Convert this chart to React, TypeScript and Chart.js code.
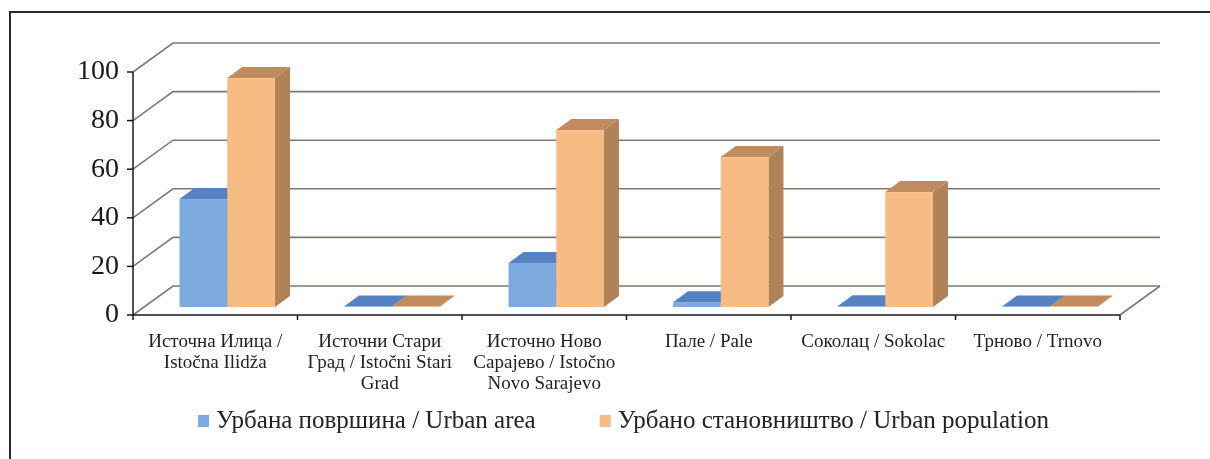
import React, { useEffect, useRef } from "react";
import { Chart, registerables } from "chart.js";

Chart.register(...registerables);

const categories: (string | string[])[] = [
  ["Источна Илица /", "Istočna Ilidža"],
  ["Источни Стари", "Град / Istočni Stari", "Grad"],
  ["Источно Ново", "Сарајево / Istočno", "Novo Sarajevo"],
  "Пале / Pale",
  "Соколац / Sokolac",
  "Трново / Trnovo",
];
const urbanArea = [44.4, 0.2, 18.1, 2, 0.3, 0.2];
const urbanPopulation = [94.2, 0.2, 72.8, 61.7, 47.3, 0.2];
const seriesNames = [
  "Урбана површина / Urban area",
  "Урбано становништво / Urban population",
];
const yTicks = [0, 20, 40, 60, 80, 100];

const WALL = { dx: 40, dy: -29 };
const FRONT = { dx: 12, dy: -8 };
const DEPTH = { dx: 15, dy: -11 };
const faceColors = [
  { front: "#7ca9de", top: "#5482c2", side: "#3f6aa8" },
  { front: "#f7bb84", top: "#c08b5d", side: "#b08257" },
];

const threeD = {
  id: "threeD",
  beforeDraw(chart: any) {
    const { ctx, width, height } = chart;
    ctx.save();
    ctx.fillStyle = "#ffffff";
    ctx.fillRect(0, 0, width, height);
    ctx.strokeStyle = "#2a2a2a";
    ctx.lineWidth = 2;
    ctx.beginPath();
    ctx.moveTo(10, height);
    ctx.lineTo(10, 12);
    ctx.lineTo(width, 12);
    ctx.stroke();
    ctx.restore();
  },
  beforeDatasetsDraw(chart: any) {
    const { ctx, chartArea: a, scales } = chart;
    const y = scales.y;
    ctx.save();
    ctx.strokeStyle = "#84776f";
    ctx.lineWidth = 1.6;
    yTicks.forEach((v) => {
      const py = y.getPixelForValue(v);
      ctx.beginPath();
      ctx.moveTo(a.left, py);
      ctx.lineTo(a.left + WALL.dx, py + WALL.dy);
      ctx.lineTo(a.right + WALL.dx, py + WALL.dy);
      ctx.stroke();
    });
    const y0 = y.getPixelForValue(0);
    ctx.beginPath();
    ctx.moveTo(a.right, y0);
    ctx.lineTo(a.right + WALL.dx, y0 + WALL.dy);
    ctx.stroke();
    ctx.restore();
  },
  beforeDatasetDraw() {
    return false;
  },
  afterDatasetsDraw(chart: any) {
    const { ctx, chartArea: a, scales } = chart;
    const metas = chart.getSortedVisibleDatasetMetas();
    const n = chart.data.labels.length;
    ctx.save();
    for (let i = 0; i < n; i++) {
      metas.forEach((meta: any, k: number) => {
        const el = meta.data[i];
        const { x, y, base, width } = el.getProps(["x", "y", "base", "width"], true);
        const c = faceColors[k];
        const l = x - width / 2 + FRONT.dx;
        const r = x + width / 2 + FRONT.dx;
        const t = y + FRONT.dy;
        const b = base + FRONT.dy;
        ctx.fillStyle = c.side;
        ctx.beginPath();
        ctx.moveTo(r, t);
        ctx.lineTo(r + DEPTH.dx, t + DEPTH.dy);
        ctx.lineTo(r + DEPTH.dx, b + DEPTH.dy);
        ctx.lineTo(r, b);
        ctx.closePath();
        ctx.fill();
        ctx.fillStyle = c.top;
        ctx.beginPath();
        ctx.moveTo(l, t);
        ctx.lineTo(r, t);
        ctx.lineTo(r + DEPTH.dx, t + DEPTH.dy);
        ctx.lineTo(l + DEPTH.dx, t + DEPTH.dy);
        ctx.closePath();
        ctx.fill();
        ctx.fillStyle = c.front;
        ctx.fillRect(l, t, r - l, b - t);
      });
    }
    const ys = scales.y;
    const y0 = ys.getPixelForValue(0);
    const yTop = ys.getPixelForValue(100);
    ctx.strokeStyle = "#1a1a1a";
    ctx.lineWidth = 1.5;
    ctx.beginPath();
    ctx.moveTo(a.left, yTop);
    ctx.lineTo(a.left, y0);
    ctx.lineTo(a.right, y0);
    ctx.stroke();
    yTicks.forEach((v) => {
      const py = ys.getPixelForValue(v);
      ctx.beginPath();
      ctx.moveTo(a.left - 6, py);
      ctx.lineTo(a.left, py);
      ctx.stroke();
    });
    const w = (a.right - a.left) / n;
    for (let i = 0; i <= n; i++) {
      const px = a.left + i * w;
      ctx.beginPath();
      ctx.moveTo(px, y0);
      ctx.lineTo(px, y0 + 5);
      ctx.stroke();
    }
    ctx.restore();
  },
  afterDraw(chart: any) {
    const { ctx, chartArea: a } = chart;
    ctx.save();
    ctx.font = "25px 'Liberation Serif'";
    ctx.textBaseline = "middle";
    ctx.textAlign = "left";
    const box = 11;
    const boxH = 12;
    const gapText = 7;
    const gapItem = 64;
    const items = chart.data.datasets.map((ds: any) => ({
      text: ds.label,
      color: ds.backgroundColor,
      w: ctx.measureText(ds.label).width,
    }));
    const total =
      items.reduce((s: number, it: any) => s + box + gapText + it.w, 0) +
      gapItem * (items.length - 1);
    let x = (a.left + a.right) / 2 - total / 2 - 3;
    const cy = 421;
    items.forEach((it: any) => {
      ctx.fillStyle = it.color;
      ctx.fillRect(x, cy - boxH / 2, box, boxH);
      ctx.fillStyle = "#222";
      ctx.fillText(it.text, x + box + gapText, cy);
      x += box + gapText + it.w + gapItem;
    });
    ctx.restore();
  },
};

export default function App() {
  const ref = useRef<HTMLCanvasElement | null>(null);
  useEffect(() => {
    if (!ref.current) return;
    const chart = new Chart(ref.current, {
      type: "bar",
      data: {
        labels: categories as any,
        datasets: [
          { label: seriesNames[0], data: urbanArea, backgroundColor: faceColors[0].front, borderWidth: 0 },
          { label: seriesNames[1], data: urbanPopulation, backgroundColor: faceColors[1].front, borderWidth: 0 },
        ],
      },
      options: {
        responsive: false,
        animation: false,
        datasets: { bar: { categoryPercentage: 0.58, barPercentage: 1.0 } },
        layout: { padding: { left: 60, right: 90, top: 72, bottom: 54 } },
        plugins: {
          tooltip: { enabled: false },
          legend: { display: false },
        },
        scales: {
          x: {
            grid: { display: false, drawTicks: false },
            border: { display: false },
            ticks: {
              font: { family: "Liberation Serif", size: 19, lineHeight: 1.1 },
              color: "#222",
              padding: 17,
              maxRotation: 0,
              autoSkip: false,
            },
            afterFit(scale: any) {
              scale.height = 90;
            },
          },
          y: {
            min: 0,
            max: 100,
            grid: { display: false, drawTicks: false },
            border: { display: false },
            ticks: {
              stepSize: 20,
              font: { family: "Liberation Serif", size: 28 },
              color: "#1a1a1a",
              padding: 14,
            },
            afterFit(scale: any) {
              scale.width = 73;
            },
          },
        },
      },
      plugins: [threeD],
    });
    return () => chart.destroy();
  }, []);
  return (
    <div style={{ position: "absolute", left: 0, top: 0, width: 1210, height: 459, background: "#fff" }}>
      <canvas ref={ref} width={1210} height={459} style={{ display: "block" }} />
    </div>
  );
}
